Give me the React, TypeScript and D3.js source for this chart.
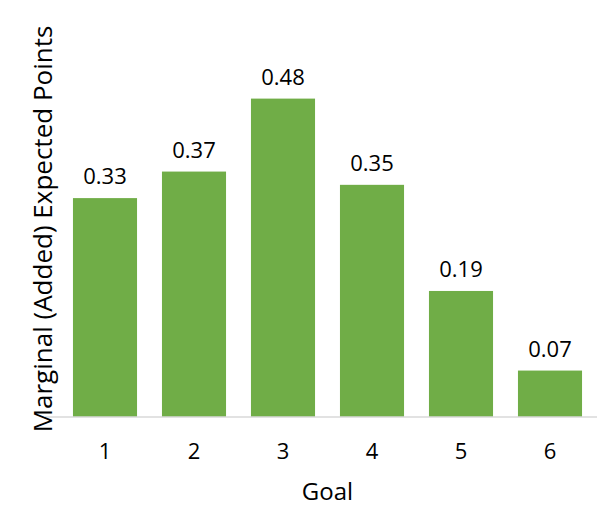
import React from "react";
import * as d3 from "d3";

const goals = ["1", "2", "3", "4", "5", "6"];
const points = [0.33, 0.37, 0.48, 0.35, 0.19, 0.07];
const yTitle = "Marginal (Added) Expected Points";
const xTitle = "Goal";

const W = 615;
const H = 528;
const FONT = "'Open Sans', sans-serif";

export default function App() {
  const x = d3.scaleBand().domain(goals).range([60.5, 594.5]).paddingInner(0.28).paddingOuter(0.14);
  const y = d3.scaleLinear().domain([0, 0.6]).range([417, 19]);
  return (
    <svg width={W} height={H} style={{ position: "absolute", left: 0, top: 0, background: "#fff" }}>
      <rect width={W} height={H} fill="#fff" />
      {points.map((v, i) => (
        <g key={goals[i]}>
          <rect x={x(goals[i])} y={y(v)} width={x.bandwidth()} height={y(0) - y(v)} fill="#70AD47" />
          <text x={(x(goals[i]) as number) + x.bandwidth() / 2} y={y(v) - 14} textAnchor="middle" fontFamily={FONT} fontSize={22} fill="#000">
            {v.toFixed(2)}
          </text>
        </g>
      ))}
      <line x1={45} x2={597} y1={y(0)} y2={y(0)} stroke="#d9d9d9" strokeWidth={1.5} />
      {goals.map((g) => (
        <text key={g} x={(x(g) as number) + x.bandwidth() / 2} y={459} textAnchor="middle" fontFamily={FONT} fontSize={22} fill="#000">
          {g}
        </text>
      ))}
      <text x={(60.5 + 594.5) / 2} y={500} textAnchor="middle" fontFamily={FONT} fontSize={24} fill="#000">
        {xTitle}
      </text>
      <text transform={`translate(52, 229) rotate(-90)`} textAnchor="middle" fontFamily={FONT} fontSize={26} fill="#000">
        {yTitle}
      </text>
    </svg>
  );
}
